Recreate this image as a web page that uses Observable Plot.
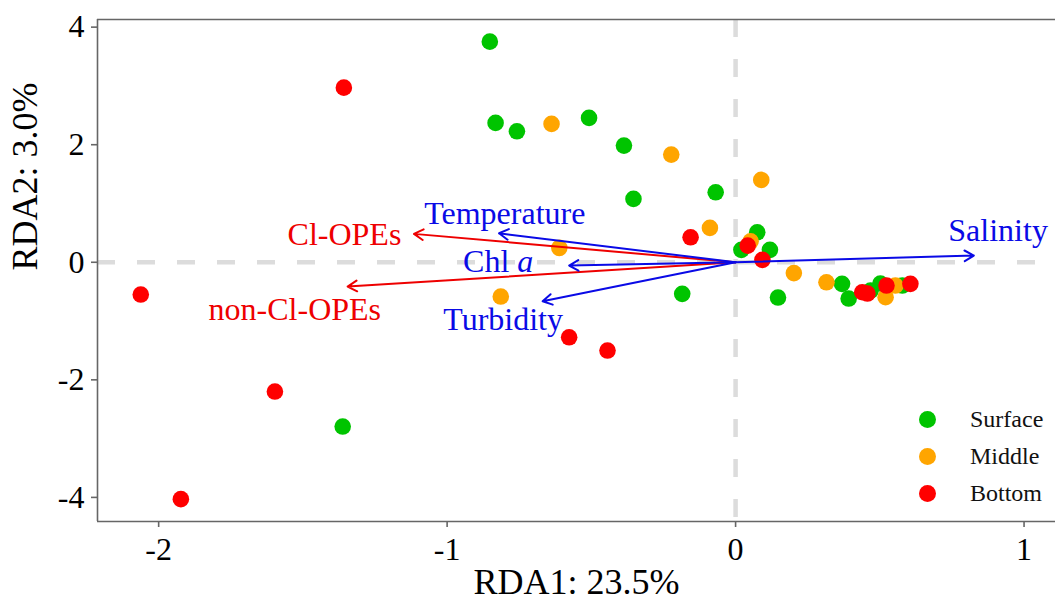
<!DOCTYPE html>
<html><head><meta charset="utf-8">
<script src="https://cdn.jsdelivr.net/npm/d3@7"></script>
<script src="https://cdn.jsdelivr.net/npm/@observablehq/plot@0.6"></script>
<style>
body{margin:0;background:#fff;}
#wrap{position:relative;width:1055px;height:601px;overflow:hidden;font-family:"Liberation Serif","Times New Roman",serif;}
.lg{position:absolute;left:919px;height:36px;display:flex;align-items:center;font-size:24px;color:#111;white-space:nowrap;}
.lg span.d{display:inline-block;width:17px;height:17px;border-radius:50%;margin-right:34px;}
</style></head><body><div id="wrap"></div><script>
// ---- data (RDA scores) ----
const groups = ["Surface", "Middle", "Bottom"];
const groupColors = ["#00c400", "#ffa500", "#ff0000"];

const surfaceX = [-0.852, -0.832, -0.758, -0.508, -0.387, -0.354, -0.069, -1.362, -0.185, 0.075, 0.020, 0.119, 0.147, 0.369, 0.392, 0.468, 0.502, 0.578];
const surfaceY = [3.753, 2.371, 2.228, 2.456, 1.985, 1.078, 1.190, -2.794, -0.537, 0.510, 0.211, 0.211, -0.600, -0.367, -0.617, -0.481, -0.362, -0.396];

const middleX = [-0.638, -0.223, 0.089, -0.089, -0.611, -0.814, 0.052, 0.202, 0.315, 0.520, 0.554];
const middleY = [2.354, 1.832, 1.401, 0.585, 0.245, -0.583, 0.357, -0.184, -0.340, -0.595, -0.396];

const bottomX = [-1.358, -2.062, -1.597, -1.923, -0.577, -0.444, -0.156, 0.042, 0.093, 0.439, 0.457, 0.523, 0.606];
const bottomY = [2.971, -0.549, -2.199, -4.030, -1.276, -1.502, 0.425, 0.284, 0.041, -0.510, -0.532, -0.396, -0.367];

// response variables (red arrows)
const respNames = ["Cl-OPEs", "non-Cl-OPEs"];
const respX = [-1.115, -1.345];
const respY = [0.483, -0.413];
const respLabelX = [-1.356, -1.528];
const respLabelY = [0.472, -0.800];

// environmental variables (blue arrows)
const envNames = ["Temperature", "Chl a", "Turbidity", "Salinity"];
const envX = [-0.820, -0.577, -0.669, 0.826];
const envY = [0.493, -0.056, -0.663, 0.114];
const envLabelX = [-0.800, -0.823, -0.806, 0.910];
const envLabelY = [0.828, 0.012, -0.975, 0.539];

const xTicks = [-2, -1, 0, 1];
const yTicks = [-4, -2, 0, 2, 4];
const xDomain = [-2.212, 1.109];
const yDomain = [-4.41, 4.13];
const xTitle = "RDA1: 23.5%";
const yTitle = "RDA2: 3.0%";

// ---- build tables ----
const points = [
  ...surfaceX.map((x, i) => ({x, y: surfaceY[i], g: groups[0]})),
  ...middleX.map((x, i) => ({x, y: middleY[i], g: groups[1]})),
  ...bottomX.map((x, i) => ({x, y: bottomY[i], g: groups[2]}))
];
const resp = respNames.map((n, i) => ({n, x: respX[i], y: respY[i], lx: respLabelX[i], ly: respLabelY[i]}));
const env = envNames.map((n, i) => ({n, x: envX[i], y: envY[i], lx: envLabelX[i], ly: envLabelY[i]}));

const red = "#ee0000", blue = "#0a0ae6", axisGray = "#666666";
const font = "Liberation Serif, Times New Roman, serif";

const chart = Plot.plot({
  width: 1055,
  height: 601,
  marginLeft: 97,
  marginRight: 0,
  marginTop: 19,
  marginBottom: 80,
  style: {fontFamily: font, background: "white", color: "#000"},
  x: {domain: xDomain, ticks: xTicks, tickFormat: d => String(d), label: null},
  y: {domain: yDomain, ticks: yTicks, tickFormat: d => String(d), label: null},
  color: {domain: groups, range: groupColors},
  marks: [
    Plot.ruleY([0], {stroke: "#dcdcdc", strokeWidth: 4.5, strokeDasharray: "18,22"}),
    Plot.ruleX([0], {stroke: "#dcdcdc", strokeWidth: 4.5, strokeDasharray: "18,22"}),
    Plot.dot(points, {x: "x", y: "y", fill: "g", r: 8.3, stroke: null}),
    Plot.arrow(resp, {x1: d => 0, y1: d => 0, x2: "x", y2: "y", stroke: red, strokeWidth: 2, headLength: 8, headAngle: 60}),
    Plot.arrow(env, {x1: d => 0, y1: d => 0, x2: "x", y2: "y", stroke: blue, strokeWidth: 2, headLength: 8, headAngle: 60}),
    Plot.text(resp, {x: "lx", y: "ly", text: "n", fill: red, fontSize: 32, textAnchor: "middle", lineAnchor: "middle"}),
    Plot.text(env, {x: "lx", y: "ly", text: "n", fill: blue, fontSize: 32, textAnchor: "middle", lineAnchor: "middle"}),
    Plot.ruleY([yDomain[1]], {stroke: axisGray, strokeWidth: 1.6}),
    Plot.ruleY([yDomain[0]], {stroke: axisGray, strokeWidth: 1.6}),
    Plot.ruleX([xDomain[0]], {stroke: axisGray, strokeWidth: 1.6}),
    Plot.axisX({ticks: xTicks, tickFormat: d => String(d), tickSize: 6, tickPadding: 10, fontSize: 32, stroke: axisGray, strokeWidth: 1.6, color: "#000", label: null}),
    Plot.axisY({ticks: yTicks, tickFormat: d => String(d), tickSize: 6, tickPadding: 7, fontSize: 32, stroke: axisGray, strokeWidth: 1.6, color: "#000", label: null}),
    Plot.text([xTitle], {frameAnchor: "bottom", dy: 61, fontSize: 36, fill: "#000", lineAnchor: "middle"}),
    Plot.text([yTitle], {frameAnchor: "left", dx: -72, rotate: -90, fontSize: 36, fill: "#000", lineAnchor: "middle"})
  ]
});

// italic "a" in "Chl a"
d3.select(chart).selectAll("text").filter(function(){ return this.textContent === "Chl a"; }).each(function(){
  const t = d3.select(this);
  t.text("Chl ");
  t.append("tspan").attr("font-style", "italic").text("a");
});

const wrap = document.getElementById("wrap");
wrap.appendChild(chart);

// legend (inside the panel, bottom right)
const legendCentersY = [419, 456, 493];
groups.forEach((g, i) => {
  const row = document.createElement("div");
  row.className = "lg";
  row.style.top = (legendCentersY[i] - 18) + "px";
  const dot = document.createElement("span");
  dot.className = "d";
  dot.style.background = groupColors[i];
  row.appendChild(dot);
  row.appendChild(document.createTextNode(g));
  wrap.appendChild(row);
});
</script></body></html>
